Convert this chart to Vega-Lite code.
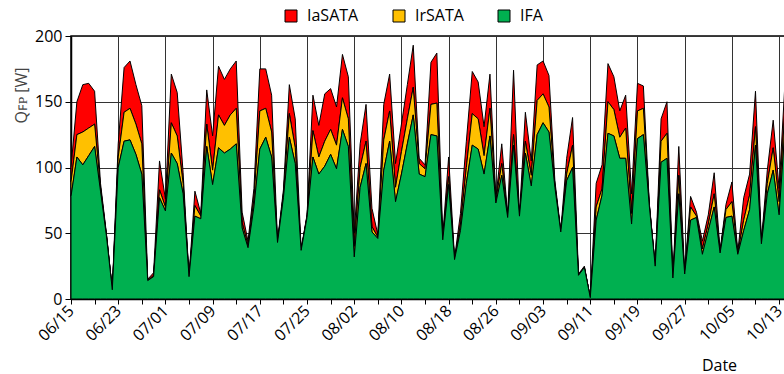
{
"$schema": "https://vega.github.io/schema/vega-lite/v6.json",
"width": 714, "height": 263,
"autosize": {"type": "none"},
"padding": {"left": 71, "top": 36, "right": 0, "bottom": 75},
"background": "white",
"config": {"font": "Open Sans", "view": {"stroke": "black", "strokeWidth": 1.5}},
"data": {"values": [
{"date":"2021-06-15","IFA":78,"IrSATA":11,"IaSATA":11},
{"date":"2021-06-16","IFA":108,"IrSATA":17,"IaSATA":25},
{"date":"2021-06-17","IFA":102,"IrSATA":25,"IaSATA":36},
{"date":"2021-06-18","IFA":109,"IrSATA":21,"IaSATA":34},
{"date":"2021-06-19","IFA":116,"IrSATA":17,"IaSATA":25},
{"date":"2021-06-20","IFA":82,"IrSATA":3,"IaSATA":3},
{"date":"2021-06-21","IFA":48,"IrSATA":1,"IaSATA":1},
{"date":"2021-06-22","IFA":7,"IrSATA":0,"IaSATA":0},
{"date":"2021-06-23","IFA":100,"IrSATA":8,"IaSATA":10},
{"date":"2021-06-24","IFA":120,"IrSATA":22,"IaSATA":34},
{"date":"2021-06-25","IFA":121,"IrSATA":24,"IaSATA":36},
{"date":"2021-06-26","IFA":110,"IrSATA":23,"IaSATA":30},
{"date":"2021-06-27","IFA":95,"IrSATA":23,"IaSATA":29},
{"date":"2021-06-28","IFA":14,"IrSATA":0,"IaSATA":1},
{"date":"2021-06-29","IFA":17,"IrSATA":1,"IaSATA":2},
{"date":"2021-06-30","IFA":77,"IrSATA":6,"IaSATA":22},
{"date":"2021-07-01","IFA":67,"IrSATA":3,"IaSATA":6},
{"date":"2021-07-02","IFA":111,"IrSATA":23,"IaSATA":37},
{"date":"2021-07-03","IFA":103,"IrSATA":21,"IaSATA":33},
{"date":"2021-07-04","IFA":80,"IrSATA":8,"IaSATA":8},
{"date":"2021-07-05","IFA":17,"IrSATA":0,"IaSATA":0},
{"date":"2021-07-06","IFA":63,"IrSATA":8,"IaSATA":11},
{"date":"2021-07-07","IFA":61,"IrSATA":2,"IaSATA":2},
{"date":"2021-07-08","IFA":116,"IrSATA":17,"IaSATA":26},
{"date":"2021-07-09","IFA":87,"IrSATA":11,"IaSATA":26},
{"date":"2021-07-10","IFA":115,"IrSATA":25,"IaSATA":37},
{"date":"2021-07-11","IFA":111,"IrSATA":21,"IaSATA":35},
{"date":"2021-07-12","IFA":114,"IrSATA":26,"IaSATA":35},
{"date":"2021-07-13","IFA":118,"IrSATA":27,"IaSATA":36},
{"date":"2021-07-14","IFA":54,"IrSATA":4,"IaSATA":8},
{"date":"2021-07-15","IFA":39,"IrSATA":2,"IaSATA":3},
{"date":"2021-07-16","IFA":70,"IrSATA":6,"IaSATA":8},
{"date":"2021-07-17","IFA":114,"IrSATA":29,"IaSATA":32},
{"date":"2021-07-18","IFA":123,"IrSATA":22,"IaSATA":30},
{"date":"2021-07-19","IFA":108,"IrSATA":19,"IaSATA":28},
{"date":"2021-07-20","IFA":43,"IrSATA":0,"IaSATA":1},
{"date":"2021-07-21","IFA":77,"IrSATA":3,"IaSATA":3},
{"date":"2021-07-22","IFA":123,"IrSATA":18,"IaSATA":22},
{"date":"2021-07-23","IFA":103,"IrSATA":12,"IaSATA":22},
{"date":"2021-07-24","IFA":37,"IrSATA":0,"IaSATA":1},
{"date":"2021-07-25","IFA":62,"IrSATA":1,"IaSATA":1},
{"date":"2021-07-26","IFA":108,"IrSATA":20,"IaSATA":27},
{"date":"2021-07-27","IFA":95,"IrSATA":13,"IaSATA":24},
{"date":"2021-07-28","IFA":101,"IrSATA":19,"IaSATA":36},
{"date":"2021-07-29","IFA":110,"IrSATA":19,"IaSATA":31},
{"date":"2021-07-30","IFA":99,"IrSATA":18,"IaSATA":29},
{"date":"2021-07-31","IFA":129,"IrSATA":24,"IaSATA":33},
{"date":"2021-08-01","IFA":116,"IrSATA":21,"IaSATA":32},
{"date":"2021-08-02","IFA":32,"IrSATA":8,"IaSATA":10},
{"date":"2021-08-03","IFA":85,"IrSATA":15,"IaSATA":18},
{"date":"2021-08-04","IFA":103,"IrSATA":17,"IaSATA":28},
{"date":"2021-08-05","IFA":51,"IrSATA":4,"IaSATA":14},
{"date":"2021-08-06","IFA":46,"IrSATA":1,"IaSATA":2},
{"date":"2021-08-07","IFA":98,"IrSATA":23,"IaSATA":27},
{"date":"2021-08-08","IFA":120,"IrSATA":23,"IaSATA":28},
{"date":"2021-08-09","IFA":74,"IrSATA":11,"IaSATA":18},
{"date":"2021-08-10","IFA":95,"IrSATA":17,"IaSATA":21},
{"date":"2021-08-11","IFA":118,"IrSATA":19,"IaSATA":26},
{"date":"2021-08-12","IFA":140,"IrSATA":21,"IaSATA":32},
{"date":"2021-08-13","IFA":95,"IrSATA":8,"IaSATA":4},
{"date":"2021-08-14","IFA":93,"IrSATA":6,"IaSATA":3},
{"date":"2021-08-15","IFA":125,"IrSATA":23,"IaSATA":32},
{"date":"2021-08-16","IFA":124,"IrSATA":25,"IaSATA":38},
{"date":"2021-08-17","IFA":45,"IrSATA":1,"IaSATA":2},
{"date":"2021-08-18","IFA":87,"IrSATA":6,"IaSATA":15},
{"date":"2021-08-19","IFA":30,"IrSATA":0,"IaSATA":1},
{"date":"2021-08-20","IFA":52,"IrSATA":5,"IaSATA":8},
{"date":"2021-08-21","IFA":88,"IrSATA":12,"IaSATA":20},
{"date":"2021-08-22","IFA":117,"IrSATA":24,"IaSATA":32},
{"date":"2021-08-23","IFA":114,"IrSATA":23,"IaSATA":28},
{"date":"2021-08-24","IFA":95,"IrSATA":14,"IaSATA":22},
{"date":"2021-08-25","IFA":124,"IrSATA":21,"IaSATA":26},
{"date":"2021-08-26","IFA":73,"IrSATA":2,"IaSATA":2},
{"date":"2021-08-27","IFA":94,"IrSATA":9,"IaSATA":15},
{"date":"2021-08-28","IFA":62,"IrSATA":1,"IaSATA":1},
{"date":"2021-08-29","IFA":117,"IrSATA":8,"IaSATA":49},
{"date":"2021-08-30","IFA":63,"IrSATA":0,"IaSATA":1},
{"date":"2021-08-31","IFA":111,"IrSATA":9,"IaSATA":22},
{"date":"2021-09-01","IFA":86,"IrSATA":8,"IaSATA":11},
{"date":"2021-09-02","IFA":125,"IrSATA":26,"IaSATA":27},
{"date":"2021-09-03","IFA":134,"IrSATA":22,"IaSATA":25},
{"date":"2021-09-04","IFA":127,"IrSATA":19,"IaSATA":24},
{"date":"2021-09-05","IFA":85,"IrSATA":2,"IaSATA":3},
{"date":"2021-09-06","IFA":51,"IrSATA":0,"IaSATA":1},
{"date":"2021-09-07","IFA":90,"IrSATA":5,"IaSATA":12},
{"date":"2021-09-08","IFA":100,"IrSATA":17,"IaSATA":21},
{"date":"2021-09-09","IFA":18,"IrSATA":0,"IaSATA":1},
{"date":"2021-09-10","IFA":24,"IrSATA":0,"IaSATA":1},
{"date":"2021-09-11","IFA":1,"IrSATA":0,"IaSATA":0},
{"date":"2021-09-12","IFA":60,"IrSATA":10,"IaSATA":18},
{"date":"2021-09-13","IFA":79,"IrSATA":5,"IaSATA":18},
{"date":"2021-09-14","IFA":126,"IrSATA":24,"IaSATA":29},
{"date":"2021-09-15","IFA":124,"IrSATA":20,"IaSATA":25},
{"date":"2021-09-16","IFA":107,"IrSATA":16,"IaSATA":20},
{"date":"2021-09-17","IFA":107,"IrSATA":23,"IaSATA":25},
{"date":"2021-09-18","IFA":57,"IrSATA":8,"IaSATA":15},
{"date":"2021-09-19","IFA":122,"IrSATA":21,"IaSATA":21},
{"date":"2021-09-20","IFA":125,"IrSATA":20,"IaSATA":17},
{"date":"2021-09-21","IFA":71,"IrSATA":1,"IaSATA":1},
{"date":"2021-09-22","IFA":25,"IrSATA":0,"IaSATA":0},
{"date":"2021-09-23","IFA":104,"IrSATA":16,"IaSATA":17},
{"date":"2021-09-24","IFA":107,"IrSATA":19,"IaSATA":24},
{"date":"2021-09-25","IFA":16,"IrSATA":0,"IaSATA":0},
{"date":"2021-09-26","IFA":80,"IrSATA":14,"IaSATA":22},
{"date":"2021-09-27","IFA":19,"IrSATA":0,"IaSATA":1},
{"date":"2021-09-28","IFA":60,"IrSATA":10,"IaSATA":8},
{"date":"2021-09-29","IFA":62,"IrSATA":1,"IaSATA":3},
{"date":"2021-09-30","IFA":34,"IrSATA":4,"IaSATA":6},
{"date":"2021-10-01","IFA":52,"IrSATA":5,"IaSATA":7},
{"date":"2021-10-02","IFA":70,"IrSATA":10,"IaSATA":16},
{"date":"2021-10-03","IFA":35,"IrSATA":1,"IaSATA":1},
{"date":"2021-10-04","IFA":62,"IrSATA":6,"IaSATA":4},
{"date":"2021-10-05","IFA":63,"IrSATA":11,"IaSATA":15},
{"date":"2021-10-06","IFA":34,"IrSATA":1,"IaSATA":1},
{"date":"2021-10-07","IFA":52,"IrSATA":8,"IaSATA":17},
{"date":"2021-10-08","IFA":68,"IrSATA":11,"IaSATA":16},
{"date":"2021-10-09","IFA":117,"IrSATA":14,"IaSATA":27},
{"date":"2021-10-10","IFA":42,"IrSATA":1,"IaSATA":1},
{"date":"2021-10-11","IFA":80,"IrSATA":8,"IaSATA":10},
{"date":"2021-10-12","IFA":98,"IrSATA":17,"IaSATA":21},
{"date":"2021-10-13","IFA":64,"IrSATA":10,"IaSATA":10},
{"date":"2021-10-14","IFA":130,"IrSATA":15,"IaSATA":20}
]},
"transform": [
  {"fold": ["IaSATA", "IrSATA", "IFA"], "as": ["series", "value"]},
  {"calculate": "indexof(['IFA', 'IrSATA', 'IaSATA'], datum.series)", "as": "stackOrder"}
],
"mark": {"type": "area", "stroke": "black", "strokeWidth": 1, "interpolate": "linear", "opacity": 1},
"encoding": {
  "x": {"field": "date", "type": "temporal",
    "scale": {"type": "utc", "domain": [{"year": 2021, "month": 6, "date": 15, "utc": true}, {"year": 2021, "month": 10, "date": 14, "utc": true}]},
    "axis": {
      "values": [
        {"year":2021,"month":6,"date":15,"utc":true},{"year":2021,"month":6,"date":19,"utc":true},{"year":2021,"month":6,"date":23,"utc":true},{"year":2021,"month":6,"date":27,"utc":true},
        {"year":2021,"month":7,"date":1,"utc":true},{"year":2021,"month":7,"date":5,"utc":true},{"year":2021,"month":7,"date":9,"utc":true},{"year":2021,"month":7,"date":13,"utc":true},
        {"year":2021,"month":7,"date":17,"utc":true},{"year":2021,"month":7,"date":21,"utc":true},{"year":2021,"month":7,"date":25,"utc":true},{"year":2021,"month":7,"date":29,"utc":true},
        {"year":2021,"month":8,"date":2,"utc":true},{"year":2021,"month":8,"date":6,"utc":true},{"year":2021,"month":8,"date":10,"utc":true},{"year":2021,"month":8,"date":14,"utc":true},
        {"year":2021,"month":8,"date":18,"utc":true},{"year":2021,"month":8,"date":22,"utc":true},{"year":2021,"month":8,"date":26,"utc":true},{"year":2021,"month":8,"date":30,"utc":true},
        {"year":2021,"month":9,"date":3,"utc":true},{"year":2021,"month":9,"date":7,"utc":true},{"year":2021,"month":9,"date":11,"utc":true},{"year":2021,"month":9,"date":15,"utc":true},
        {"year":2021,"month":9,"date":19,"utc":true},{"year":2021,"month":9,"date":23,"utc":true},{"year":2021,"month":9,"date":27,"utc":true},{"year":2021,"month":10,"date":1,"utc":true},
        {"year":2021,"month":10,"date":5,"utc":true},{"year":2021,"month":10,"date":9,"utc":true},{"year":2021,"month":10,"date":13,"utc":true}
      ],
      "labelExpr": "((datum.value - utc(2021,5,15)) / 86400000) % 8 == 0 ? utcFormat(datum.value, '%m/%d') : ''",
      "labelAngle": -45, "labelAlign": "right", "labelBaseline": "middle",
      "labelFontSize": 16, "labelColor": "black", "labelPadding": 4,
      "labelOverlap": false, "labelFlush": false, "labelBound": false,
      "tickSize": 5, "tickColor": "black", "tickWidth": 1,
      "domainColor": "black", "domainWidth": 1.5,
      "grid": true, "gridColor": "#333", "gridWidth": 1,
      "gridOpacity": {"condition": {"test": "((datum.value - utc(2021,5,15)) / 86400000) % 8 == 0", "value": 1}, "value": 0},
      "title": "Date", "titleFontSize": 16, "titleFontWeight": "normal", "titleColor": "black",
      "titleX": 648, "titleY": 71, "titleAlign": "center", "titleBaseline": "alphabetic"
    }},
  "y": {"field": "value", "type": "quantitative", "stack": "zero",
    "scale": {"domain": [0, 200], "nice": false},
    "axis": {
      "values": [0, 50, 100, 150, 200],
      "labelFontSize": 16, "labelColor": "black", "labelPadding": 3,
      "tickSize": 6, "tickColor": "black", "domainColor": "black", "domainWidth": 1.5,
      "grid": true, "gridColor": "#333", "gridWidth": 1,
      "title": "Qꜰᴘ [W]", "titleFontSize": 16, "titleFontWeight": "normal", "titleColor": "#444",
      "titleAngle": -90, "titleX": -50, "titleY": 59, "titleAlign": "center", "titleBaseline": "middle"
    }},
  "order": {"field": "stackOrder", "type": "quantitative", "sort": "ascending"},
  "color": {"field": "series", "type": "nominal", "sort": ["IaSATA", "IrSATA", "IFA"],
    "scale": {"domain": ["IaSATA", "IrSATA", "IFA"], "range": ["#ff0000", "#ffc000", "#00b050"]},
    "legend": {"orient": "none", "legendX": 212, "legendY": -28, "direction": "horizontal", "title": null,
      "symbolType": "square", "symbolSize": 144, "symbolStrokeColor": "black", "symbolStrokeWidth": 1, "symbolOpacity": 1,
      "labelFontSize": 16, "labelColor": "black", "labelOffset": 8, "columnPadding": 32}}
}
}
